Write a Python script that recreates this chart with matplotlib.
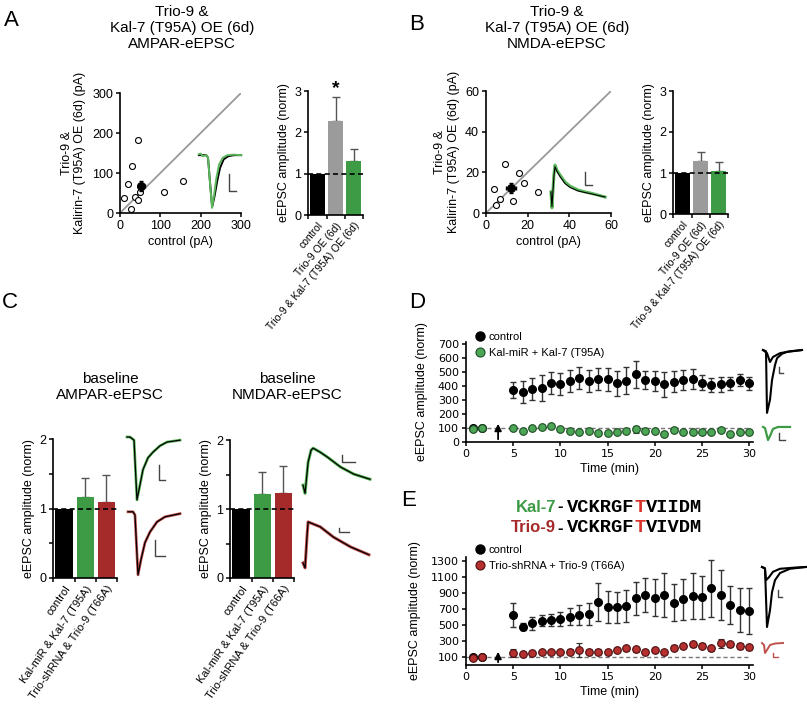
import matplotlib.pyplot as plt
from matplotlib.lines import Line2D
import numpy as np

plt.rcParams['font.family'] = ['Liberation Sans', 'DejaVu Sans']
plt.rcParams['axes.linewidth'] = 1.2

# ---------------- data ----------------
# A: AMPAR scatter (pA)
a_ctrl = [44, 29, 19, 10, 36, 45, 50, 27, 109, 155]
a_oe = [183, 117, 72, 37, 40, 33, 52, 10, 52, 81]
a_mean = [53, 67]
a_mean_err = [8, 12]
# B: NMDA scatter (pA)
b_ctrl = [3.9, 5.0, 6.7, 9.1, 12.8, 15.9, 18.3, 24.9]
b_oe = [12.0, 4.1, 6.7, 24.0, 6.1, 19.7, 14.9, 10.3]
b_mean = [12.0, 12.5]
b_mean_err = [2.2, 2.5]

# bar panels (norm)
ab_labels = ['control', 'Trio-9 OE (6d)', 'Trio-9 & Kal-7 (T95A) OE (6d)']
a_bar = [1.0, 2.27, 1.30]
a_bar_err = [0, 0.58, 0.30]
b_bar = [1.0, 1.30, 1.06]
b_bar_err = [0, 0.21, 0.21]
c_labels = ['control', 'Kal-miR & Kal-7 (T95A)', 'Trio-shRNA & Trio-9 (T66A)']
c_ampa = [1.0, 1.16, 1.10]
c_ampa_err = [0, 0.28, 0.38]
c_nmda = [1.0, 1.22, 1.23]
c_nmda_err = [0, 0.31, 0.40]

# D / E time courses
t_base = [0.7, 1.7]
t_post = [5, 6, 7, 8, 9, 10, 11, 12, 13, 14, 15, 16, 17, 18, 19, 20,
          21, 22, 23, 24, 25, 26, 27, 28, 29, 30]
ctrl_base = [100, 100]
d_ctrl = [371, 357, 378, 385, 421, 414, 436, 457, 436, 450, 448, 419, 438,
          483, 443, 436, 412, 431, 443, 450, 424, 407, 412, 419, 443, 419]
d_ctrl_err = [60, 79, 79, 95, 76, 76, 79, 79, 79, 79, 83, 90, 95,
              95, 67, 71, 90, 76, 71, 71, 52, 52, 52, 48, 40, 48]
d_kal_base = [95, 100]
d_kal = [100, 81, 100, 107, 114, 93, 79, 74, 81, 67, 62, 74, 81,
         90, 78, 81, 57, 86, 74, 69, 69, 71, 86, 57, 71, 71]
d_kal_err = [8, 8, 8, 8, 8, 8, 8, 8, 8, 8, 8, 8, 8,
             25, 8, 8, 8, 8, 8, 8, 8, 8, 8, 8, 8, 8]
e_ctrl = [625, 479, 520, 554, 562, 575, 604, 625, 637, 791, 721, 721, 737,
          833, 875, 842, 875, 779, 821, 862, 846, 958, 875, 750, 687, 675]
e_ctrl_err = [155, 45, 80, 70, 75, 90, 110, 130, 140, 235, 200, 190, 195,
              210, 210, 230, 270, 230, 260, 285, 270, 355, 310, 240, 270, 290]
e_trio_base = [90, 95]
e_trio = [150, 137, 150, 158, 163, 158, 167, 190, 167, 167, 158, 187, 208,
          196, 166, 187, 166, 216, 237, 258, 241, 208, 271, 258, 241, 221]
e_trio_err = [50, 25, 30, 25, 30, 25, 30, 90, 35, 30, 25, 30, 30,
              30, 25, 25, 25, 30, 30, 35, 30, 30, 60, 35, 35, 30]

# example traces (time ms, normalised current)
tA_blk = [2, 10, 12, 14, 16.5, 19, 22, 25, 29, 34, 40, 48]
vA_blk = [0, 0, -0.05, -0.5, -1.0, -0.8, -0.5, -0.25, -0.08, -0.02, 0, 0]
tA_grn = [2, 4, 6, 10, 12, 14, 16.3, 18.5, 21, 24, 28, 33, 40, 48]
vA_grn = [0.02, 0.03, -0.02, 0, -0.05, -0.5, -1.02, -0.78, -0.45, -0.18, -0.05, 0, 0.01, 0]
tB = [2, 3, 5, 6.1, 8.1, 11.2, 16.3, 21.4, 29.5, 36.6, 42.7, 49.8, 57]
vB_grn = [0.16, -0.34, 0.7, 1.0, 0.84, 0.69, 0.47, 0.34, 0.22, 0.16, 0.12, 0.06, 0.0]
vB_blk = [0.16, -0.3, 0.65, 0.95, 0.8, 0.64, 0.42, 0.3, 0.19, 0.14, 0.1, 0.05, 0.0]
tC1 = [2.1, 5.3, 9.5, 12.6, 15.8, 18.9, 24.2, 29.5, 36.8, 44.2, 57.9]
vC1 = [0, 0, -0.05, -1, -0.76, -0.52, -0.33, -0.24, -0.14, -0.08, -0.05]
tC2 = [3.2, 8.4, 10.5, 13.7, 16.8, 21, 26.3, 33.7, 42.1, 57.9]
vC2 = [0, 0, -0.05, -1, -0.76, -0.49, -0.32, -0.16, -0.08, -0.03]
tC3 = [2, 4, 7, 10, 12, 19, 26, 39, 52, 68]
vC3 = [0, -0.22, 0.62, 0.95, 1.0, 0.89, 0.76, 0.49, 0.30, 0.16]
tC4 = [2, 4, 6, 7, 12, 19, 32, 49, 67]
vC4 = [0, -0.12, 0.68, 1.0, 0.95, 0.88, 0.63, 0.39, 0.2]
tD_big = [3, 6, 7, 10, 12, 15, 17, 22, 27, 42]
vD_big = [0, -0.02, -1, -0.79, -0.48, -0.24, -0.13, -0.06, -0.03, 0]
tD_small = [3, 7, 10, 13, 20, 30, 42]
vD_small = [0, -0.05, -0.19, -0.11, -0.05, -0.02, 0]
tD_grn = [3, 5, 8, 10, 13, 18, 30]
vD_grn = [0, -0.08, -1, -0.7, -0.15, 0, 0]
tE_big = [2, 5, 7, 10, 12, 15, 20, 30, 46]
vE_big = [0, -0.02, -1, -0.72, -0.42, -0.22, -0.1, -0.03, 0]
tE_small = [2, 5, 6, 9, 13, 20, 35, 46]
vE_small = [0, -0.03, -0.22, -0.17, -0.08, -0.03, -0.01, 0]
tE_red = [2, 4, 5, 7, 10, 15, 23]
vE_red = [0, -0.2, -1, -0.7, -0.2, -0.05, 0]

GREEN = '#3d9b46'
GREEN_L = '#5cb85c'
RED = '#a52a2a'
GRAY = '#9b9b9b'

W, H = 807, 710
fig = plt.figure(figsize=(W / 100, H / 100), dpi=100)


def axp(l, t, r, b):
    return fig.add_axes([l / W, 1 - b / H, (r - l) / W, (b - t) / H])


def txt(x, y, s, **kw):
    fig.text(x / W, 1 - y / H, s, **kw)


def style(ax, fs=9):
    ax.spines[['top', 'right']].set_visible(False)
    ax.tick_params(direction='out', length=3, width=1.1, labelsize=fs, pad=2)


def scatter_panel(ax, xs, ys, mean, merr, lim, ticks):
    ax.plot([0, lim], [0, lim], color='#999999', lw=1.3, zorder=0)
    ax.plot(xs, ys, 'o', mfc='white', mec='black', ms=4.3, mew=0.8)
    ax.errorbar([mean[0]], [mean[1]], xerr=[merr[0]], yerr=[merr[1]], fmt='o',
                ms=5.5, color='black', elinewidth=0.9, capsize=1.5)
    ax.set_xlim(0, lim)
    ax.set_ylim(0, lim)
    ax.set_xticks(ticks)
    ax.set_yticks(ticks)
    style(ax)
    ax.set_xlabel('control (pA)', fontsize=9, labelpad=3)
    ax.set_ylabel('Trio-9 &\nKalirin-7 (T95A) OE (6d) (pA)', fontsize=9,
                  linespacing=1.15, labelpad=4)


def bar_panel(ax, vals, errs, colors, labels, ymax, yticks, ylabels, rot, lfs):
    x = np.arange(len(vals))
    ax.bar(x, vals, width=0.82, color=colors, zorder=2)
    for xi, v, e in zip(x, vals, errs):
        if e > 0:
            ax.errorbar([xi], [v], yerr=[[0], [e]], fmt='none', ecolor='#555555',
                        elinewidth=1, capsize=3, capthick=1, zorder=1)
    ax.axhline(1, color='black', ls='--', lw=1.2, dashes=(3, 2), zorder=3)
    ax.set_xlim(-0.52, 2.48)
    ax.set_ylim(0, ymax)
    style(ax)
    ax.set_yticks(yticks)
    ax.set_yticklabels(ylabels)
    ax.set_xticks(x)
    ax.set_xticks([-0.5, 0.5, 1.5, 2.5], minor=True)
    ax.tick_params(axis='x', which='major', length=0, pad=4)
    ax.tick_params(axis='x', which='minor', length=3, width=1.1, direction='out')
    ax.set_xticklabels(labels, rotation=rot, ha='right', rotation_mode='anchor',
                       fontsize=lfs)
    ax.set_ylabel('eEPSC amplitude (norm)', fontsize=9, labelpad=3)


def trace_inset(rect, xlim, ylim, traces, bar, bar_color):
    ax = axp(*rect)
    for t, v, c, lw in traces:
        ax.plot(t, v, color=c, lw=lw, solid_joinstyle='round')
    x0, y0, x1, y1 = bar
    ax.plot([x0, x0, x1], [y1, y0, y0], color=bar_color, lw=1,
            transform=ax.transAxes)
    ax.set_xlim(xlim)
    ax.set_ylim(ylim)
    ax.axis('off')


def time_panel(ax, ctrl, ctrl_err, exp_base, exp, exp_err, fc, ec, label,
               ymax, yticks, arrow_top):
    ax.axhline(100, xmin=0, xmax=30 / 30.4, color='#777777', ls='--', lw=1,
               dashes=(3, 2), zorder=0)
    ax.plot(t_base, ctrl_base, 'o', ms=5.5, color='black')
    ax.errorbar(t_post, ctrl, yerr=ctrl_err, fmt='o', ms=5.5, mfc='black',
                mec='black', ecolor='#333333', elinewidth=1, capsize=2.3,
                capthick=1)
    ax.plot(t_base, exp_base, 'o', ms=5.5, mfc=fc, mec=ec, mew=0.8)
    ax.errorbar(t_post, exp, yerr=exp_err, fmt='o', ms=5.5, mfc=fc, mec=ec,
                mew=0.8, ecolor='#333333', elinewidth=1, capsize=2.3,
                capthick=1)
    ax.annotate('', xy=(3.4, arrow_top), xytext=(3.4, 0),
                arrowprops=dict(arrowstyle='-|>', color='black', lw=1.3,
                                mutation_scale=10))
    ax.set_xlim(0, 30.4)
    ax.set_ylim(0, ymax)
    ax.set_xticks([0, 5, 10, 15, 20, 25, 30])
    ax.set_yticks(yticks)
    style(ax)
    for lab in ax.get_xticklabels() + ax.get_yticklabels():
        lab.set_family('DejaVu Sans')
        lab.set_fontsize(8)
    ax.set_xlabel('Time (min)', fontsize=9, labelpad=3)
    ax.set_ylabel('eEPSC amplitude (norm)', fontsize=9, labelpad=7)
    handles = [Line2D([], [], ls='none', marker='o', ms=6.5, mfc='black',
                      mec='black'),
               Line2D([], [], ls='none', marker='o', ms=6.5, mfc=fc, mec=ec,
                      mew=0.8)]
    ax.legend(handles, ['control', label], loc='upper left',
              bbox_to_anchor=(0.01, 1.16), frameon=False, fontsize=8,
              handletextpad=0.3, labelspacing=0.55, borderpad=0,
              handlelength=1.0)


# ---------------- panel A ----------------
axA = axp(120, 93, 241, 213)
scatter_panel(axA, a_ctrl, a_oe, a_mean, a_mean_err, 300, [0, 100, 200, 300])
trace_inset((197, 150, 243, 212), (0, 50), (-1.1, 0.1),
            [(tA_blk, vA_blk, 'black', 1.4), (tA_grn, vA_grn, GREEN_L, 1.4)],
            (0.70, 0.34, 0.85, 0.61), '#444444')
axAb = axp(308, 91, 363, 215)
bar_panel(axAb, a_bar, a_bar_err, ['black', GRAY, GREEN], ab_labels, 3,
          [0, 1, 2, 3], ['0', '1', '2', '3'], 50, 7.5)
axAb.text(1, 3.07, '*', ha='center', va='center', fontsize=14, fontweight='bold')

# ---------------- panel B ----------------
axB = axp(486, 91, 611, 213)
scatter_panel(axB, b_ctrl, b_oe, b_mean, b_mean_err, 60, [0, 20, 40, 60])
trace_inset((549, 160, 608, 212), (0, 60), (-0.47, 1.16),
            [(tB, vB_grn, GREEN_L, 2.2), (tB, vB_blk, 'black', 0.8)],
            (0.61, 0.52, 0.73, 0.77), '#444444')
axBb = axp(673, 91, 728, 214)
bar_panel(axBb, b_bar, b_bar_err, ['black', GRAY, GREEN], ab_labels, 3,
          [0, 1, 2, 3], ['0', '1', '2', '3'], 50, 7.5)

# ---------------- panel C ----------------
axC1 = axp(53, 439, 117, 578)
bar_panel(axC1, c_ampa, c_ampa_err, ['black', GREEN, RED], c_labels, 2,
          [0, 0.5, 1, 1.5, 2], ['0', '', '1', '', '2'], 55, 8)
axC2 = axp(230, 440, 294, 578)
bar_panel(axC2, c_nmda, c_nmda_err, ['black', GREEN, RED], c_labels, 2,
          [0, 0.5, 1, 1.5, 2], ['0', '', '1', '', '2'], 55, 8)
trace_inset((125, 432, 182, 503), (0, 60), (-1.05, 0.08),
            [(tC1, vC1, GREEN_L, 2.0), (tC1, vC1, 'black', 0.9)],
            (0.60, 0.32, 0.70, 0.54), '#444444')
trace_inset((125, 508, 182, 578), (0, 60), (-1.05, 0.06),
            [(tC2, vC2, '#c0504d', 2.0), (tC2, vC2, 'black', 0.9)],
            (0.53, 0.31, 0.70, 0.54), '#444444')
trace_inset((301, 443, 372, 497), (0, 70), (-0.32, 1.14),
            [(tC3, vC3, GREEN_L, 2.2), (tC3, vC3, 'black', 0.9)],
            (0.58, 0.65, 0.76, 0.78), '#444444')
trace_inset((301, 517, 372, 572), (0, 70), (-0.22, 1.12),
            [(tC4, vC4, '#c0504d', 2.2), (tC4, vC4, 'black', 0.9)],
            (0.54, 0.73, 0.68, 0.80), '#444444')

# ---------------- panel D ----------------
axD = axp(466, 342, 753, 442)
time_panel(axD, d_ctrl, d_ctrl_err, d_kal_base, d_kal, d_kal_err, '#4ca656',
           '#1f4d24', 'Kal-miR + Kal-7 (T95A)', 714,
           [0, 100, 200, 300, 400, 500, 600, 700], 150)
trace_inset((760, 345, 805, 416), (0, 45), (-1.05, 0.08),
            [(tD_big, vD_big, 'black', 1.5), (tD_small, vD_small, 'black', 1.5)],
            (0.42, 0.61, 0.51, 0.69), '#444444')
trace_inset((760, 422, 800, 445), (0, 40), (-1.38, 0.38),
            [(tD_grn, vD_grn, GREEN, 1.6)],
            (0.475, 0.22, 0.625, 0.52), '#444444')

# ---------------- panel E ----------------
axE = axp(466, 557, 753, 665)
time_panel(axE, e_ctrl, e_ctrl_err, e_trio_base, e_trio, e_trio_err, '#b5302f',
           '#4a1010', 'Trio-shRNA + Trio-9 (T66A)', 1350,
           [100, 300, 500, 700, 900, 1100, 1300], 200)
trace_inset((760, 562, 807, 630), (0, 47), (-1.05, 0.083),
            [(tE_big, vE_big, 'black', 1.5), (tE_small, vE_small, 'black', 1.5)],
            (0.38, 0.49, 0.47, 0.59), '#444444')
trace_inset((760, 639, 790, 660), (0, 30), (-1.7, 0.4),
            [(tE_red, vE_red, '#c0504d', 1.4)],
            (0.43, 0.14, 0.60, 0.33), '#c0504d')

# ---------------- texts ----------------
for letter, x, y in [('A', 11, 21), ('B', 417, 24), ('C', 10, 302),
                     ('D', 417, 302), ('E', 409, 501)]:
    txt(x, y, letter, fontsize=16, ha='center', va='center')

txt(182, 28, 'Trio-9 &\nKal-7 (T95A) OE (6d)\nAMPAR-eEPSC', fontsize=11,
    ha='center', va='center', linespacing=1.15)
txt(557, 28, 'Trio-9 &\nKal-7 (T95A) OE (6d)\nNMDA-eEPSC', fontsize=11,
    ha='center', va='center', linespacing=1.15)
txt(110, 387, 'baseline\nAMPAR-eEPSC', fontsize=11, ha='center', va='center',
    linespacing=1.15)
txt(287, 387, 'baseline\nNMDAR-eEPSC', fontsize=11, ha='center', va='center',
    linespacing=1.15)

# protein sequences: monospace pieces placed one character cell apart
seq_kw = dict(family='Liberation Mono', fontweight='bold', fontsize=13.5,
              ha='left', va='center')
cell = 0.6 * 13.5 * 100 / 72
for name, color, head, tail, y in [('Kal-7', GREEN, 'VCKRGF', 'VIIDM', 507),
                                   ('Trio-9', RED, 'VCKRGF', 'VIVDM', 528)]:
    txt(556, y, name, color=color, fontsize=12, fontweight='bold', ha='right',
        va='center')
    txt(557, y, '-', color='black', fontsize=12, fontweight='bold', ha='left',
        va='center')
    txt(567, y, head, color='black', **seq_kw)
    txt(567 + 6 * cell, y, 'T', color='#d9342b', **seq_kw)
    txt(567 + 7 * cell, y, tail, color='black', **seq_kw)

fig.savefig('out.png', dpi=100)
